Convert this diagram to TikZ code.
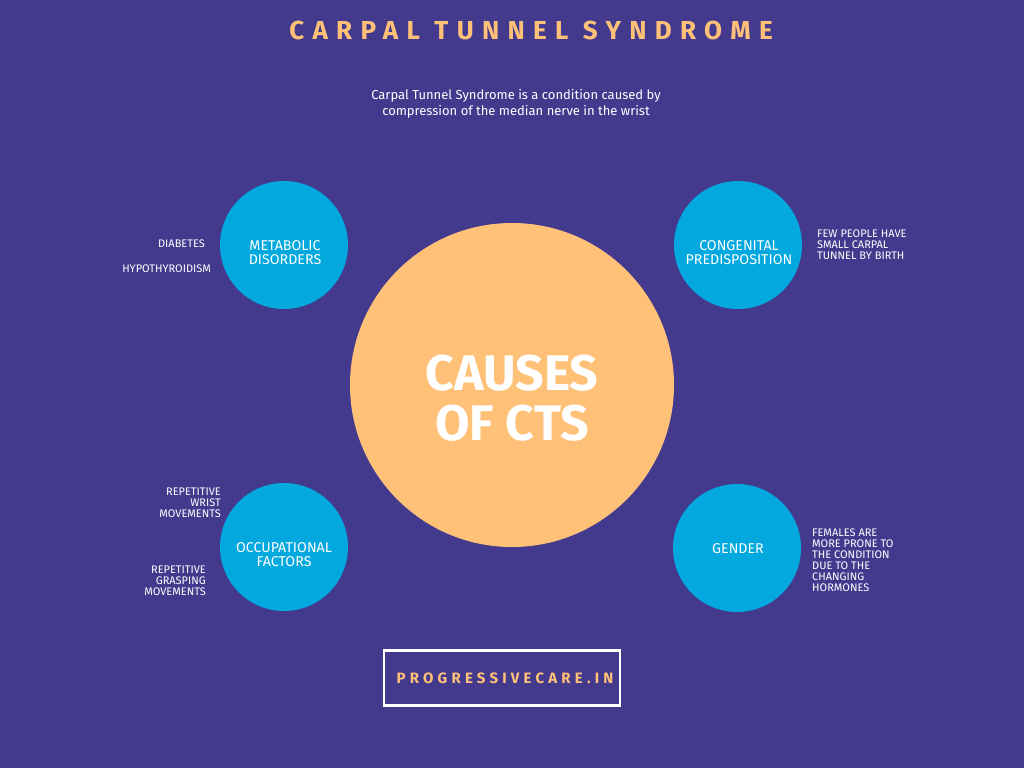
\documentclass[tikz,border=0pt]{standalone}
\usepackage{fontspec}
\setmainfont{Fira Sans}
\newfontfamily\titlefont[LetterSpace=32]{Fira Sans}
\newfontfamily\urlfont[LetterSpace=28]{Fira Sans}
\definecolor{bg}{HTML}{433A8E}
\definecolor{blu}{HTML}{03A8DE}
\definecolor{org}{HTML}{FFC178}
\begin{document}
\begin{tikzpicture}[x=1pt,y=-1pt,
  small/.style={circle,fill=blu,minimum size=128pt,inner sep=0pt},
  lbl/.style={text=white,align=center,inner sep=0pt,font=\fontsize{14.2}{14}\selectfont},
  side/.style={text=white,font=\fontsize{11}{11}\selectfont,inner sep=0pt},
]
\fill[bg] (0,0) rectangle (1024,768);
\useasboundingbox (0,0) rectangle (1024,768);
\node[text=org,font=\titlefont\bfseries\fontsize{26}{28}\selectfont] (title) at (531,30) {CARPAL TUNNEL SYNDROME};
\node[text=white,align=center,font=\fontsize{13}{16}\selectfont] (sub) at (516,104) {Carpal Tunnel Syndrome is a condition caused by\\compression of the median nerve in the wrist};
\node[circle,fill=org,minimum size=324pt,inner sep=0pt] (main) at (512,385) {};
\node[text=white,align=center,inner sep=0pt,font=\bfseries\fontsize{50}{50}\selectfont] (mainlbl) at (512,398) {CAUSES\\OF CTS};
\node[small] (meta) at (284,245) {};
\node[small] (cong) at (738,245) {};
\node[small] (occ) at (284,547) {};
\node[small] (gen) at (737,548) {};
\node[lbl] (metal) at (285,253) {METABOLIC\\DISORDERS};
\node[lbl] (congl) at (739,253) {CONGENITAL\\PREDISPOSITION};
\node[lbl] (occl) at (284,555) {OCCUPATIONAL\\FACTORS};
\node[lbl] (genl) at (738,549) {GENDER};
\node[side,anchor=east] (dia) at (205,244) {DIABETES};
\node[side,anchor=east] (hyp) at (211,269) {HYPOTHYROIDISM};
\node[side,anchor=west,align=left] (few) at (817,245) {FEW PEOPLE HAVE\\SMALL CARPAL\\TUNNEL BY BIRTH};
\node[side,anchor=east,align=right] (rw) at (221,503) {REPETITIVE\\WRIST\\MOVEMENTS};
\node[side,anchor=east,align=right] (rg) at (206,581) {REPETITIVE\\GRASPING\\MOVEMENTS};
\node[side,anchor=west,align=left] (fem) at (812,560) {FEMALES ARE\\MORE PRONE TO\\THE CONDITION\\DUE TO THE\\CHANGING\\HORMONES};
\node[draw=white,line width=2.5pt,minimum width=236pt,minimum height=55pt,inner sep=0pt] (url) at (502,678) {};
\node[text=org,inner sep=0pt,font=\urlfont\bfseries\fontsize{15}{16}\selectfont] (urll) at (505,678) {PROGRESSIVECARE.IN};
\end{tikzpicture}
\end{document}
